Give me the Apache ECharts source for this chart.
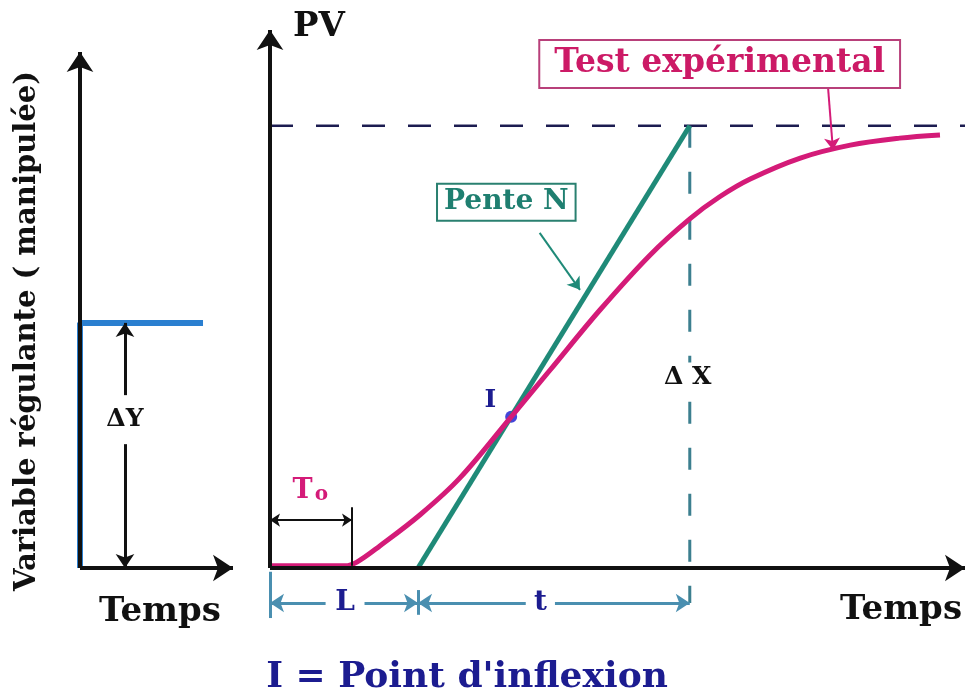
<!DOCTYPE html>
<html><head><meta charset="utf-8">
<script src="https://cdn.jsdelivr.net/npm/echarts@6/dist/echarts.min.js"></script>
<style>html,body{margin:0;padding:0;background:#fff}#c{width:971px;height:699px}</style>
</head><body><div id="c"></div>
<script>
// ---------- data ----------
// right panel : process response (time 0..100, PV 0..100)
const curveTime = [0, 10.8, 12.5, 15.8, 21.6, 27.3, 34.7, 40.3, 47.5, 54.7, 60.4, 64.7, 69.1, 76.3, 83.5, 90.6, 96.4];
const curvePV   = [0.4, 0.4, 1.1, 4.1, 9.9, 16.7, 28.1, 36.8, 48.0, 58.2, 64.9, 69.0, 72.3, 76.2, 78.6, 79.9, 80.5];
const tangentTime = [21.3, 60.4];
const tangentPV   = [0, 82.2];
const finalPV = 82.2;
const inflexionPoint = [34.7, 28.1];
const deadTimeT0 = 11.8;
const delayL = 21.3;
const timeEnd = 60.4;
// left panel : manipulated variable step
const stepTime  = [0, 0, 80.4];
const stepValue = [0, 47.5, 47.5];
const deltaYAt = 29.4;

// ---------- helpers ----------
const SERIF = '"DejaVu Serif", "Liberation Serif", serif';
const BLACK = '#111';
const MAGENTA = '#d41b78';
const TEAL = '#1f8a78';
const NAVY = '#1c1c90';
const DIM = '#4a8fb0';

function pairs(xs, ys) { return xs.map((x, i) => [x, ys[i]]); }
function seg(a, b, s0, s1) {
  return [{ coord: a, symbol: s0 || 'none' }, { coord: b, symbol: s1 || 'none' }];
}
function markerSeries(gi, lines, color, width, symSize) {
  return {
    type: 'line', data: [], xAxisIndex: gi, yAxisIndex: gi, silent: true,
    markLine: {
      silent: true, animation: false, symbolSize: symSize,
      label: { show: false },
      lineStyle: { color: color, width: width, type: 'solid' },
      emphasis: { disabled: true },
      data: lines
    }
  };
}
function textPoint(coord, text, style) {
  return {
    coord: coord, symbol: 'circle', symbolSize: 1,
    itemStyle: { color: 'rgba(0,0,0,0)' },
    label: Object.assign({ show: true, position: 'inside', formatter: text,
      fontFamily: SERIF, fontWeight: 'bold' }, style)
  };
}
function labelSeries(gi, points) {
  return {
    type: 'line', data: [], xAxisIndex: gi, yAxisIndex: gi, silent: true,
    markPoint: { silent: true, animation: false, data: points }
  };
}

const chart = echarts.init(document.getElementById('c'));
const hidden = { axisLine: { show: false }, axisTick: { show: false }, axisLabel: { show: false }, splitLine: { show: false } };

const option = {
  animation: false,
  backgroundColor: '#fff',
  grid: [
    { left: 80, top: 52, width: 153, height: 593.4 },
    { left: 270, top: 30, width: 695, height: 618.7 }
  ],
  xAxis: [
    Object.assign({ type: 'value', gridIndex: 0, min: 0, max: 100 }, hidden),
    Object.assign({ type: 'value', gridIndex: 1, min: 0, max: 100 }, hidden)
  ],
  yAxis: [
    Object.assign({ type: 'value', gridIndex: 0, min: -15, max: 100 }, hidden),
    Object.assign({ type: 'value', gridIndex: 1, min: -15, max: 100 }, hidden)
  ],
  graphic: [
    { type: 'text', x: 27, y: 331, rotation: Math.PI / 2,
      style: { text: 'Variable régulante ( manipulée)', align: 'center', verticalAlign: 'middle',
        font: 'bold 29px ' + SERIF, fill: BLACK } },
    { type: 'text', x: 293, y: 27, style: { text: 'PV', align: 'left', verticalAlign: 'middle',
        font: 'bold 34px ' + SERIF, fill: BLACK } },
    { type: 'text', x: 467, y: 678, style: { text: "I = Point d'inflexion", align: 'center', verticalAlign: 'middle',
        font: 'bold 36px ' + SERIF, fill: NAVY } }
  ],
  series: [
    // ----- left panel -----
    { type: 'line', xAxisIndex: 0, yAxisIndex: 0, data: pairs(stepTime, stepValue), symbol: 'none',
      lineStyle: { color: '#2a7fd0', width: 6 }, clip: false, silent: true },
    markerSeries(0, [
      seg([0, 0], [100, 0], 'none', 'arrow'),
      seg([0, 0], [0, 100], 'none', 'arrow')
    ], BLACK, 4, 20),
    markerSeries(0, [
      seg([deltaYAt, stepValue[1]], [deltaYAt, 33.5], 'arrow', 'none'),
      seg([deltaYAt, 24.0], [deltaYAt, 0], 'none', 'arrow')
    ], BLACK, 3, 14),
    labelSeries(0, [
      textPoint([deltaYAt, 28.7], 'ΔY', { fontSize: 25, color: BLACK }),
      textPoint([52.3, -8.5], 'Temps', { fontSize: 34, color: BLACK })
    ]),
    // ----- right panel -----
    { type: 'line', xAxisIndex: 1, yAxisIndex: 1, data: [[0, finalPV], [100, finalPV]], symbol: 'none',
      lineStyle: { color: '#1c1c50', width: 2.5, type: [23, 23] }, silent: true },
    { type: 'line', xAxisIndex: 1, yAxisIndex: 1, data: [[timeEnd, finalPV], [timeEnd, -6.5]], symbol: 'none',
      lineStyle: { color: '#3c7f8f', width: 3, type: [22, 24] }, clip: false, silent: true },
    { type: 'line', xAxisIndex: 1, yAxisIndex: 1, data: pairs(tangentTime, tangentPV), symbol: 'none',
      lineStyle: { color: TEAL, width: 5 }, silent: true },
    { type: 'line', xAxisIndex: 1, yAxisIndex: 1, data: pairs(curveTime, curvePV), symbol: 'none',
      smooth: 0.35, lineStyle: { color: MAGENTA, width: 5 }, silent: true },
    { type: 'scatter', xAxisIndex: 1, yAxisIndex: 1, data: [inflexionPoint], symbolSize: 12,
      itemStyle: { color: '#1515d0' }, silent: true },
    // axes
    markerSeries(1, [
      seg([0, 0], [100, 0], 'none', 'arrow'),
      seg([0, 0], [0, 100], 'none', 'arrow')
    ], BLACK, 4, 20),
    // T0 arrow
    markerSeries(1, [
      seg([0, 8.9], [deadTimeT0, 8.9], 'arrow', 'arrow'),
      seg([deadTimeT0, 11.3], [deadTimeT0, 0.4])
    ], BLACK, 2, 10),
    // L and t dimension arrows
    markerSeries(1, [
      seg([0, -6.5], [8.0, -6.5], 'arrow', 'none'),
      seg([13.6, -6.5], [delayL, -6.5], 'none', 'arrow'),
      seg([delayL, -6.5], [36.8, -6.5], 'arrow', 'none'),
      seg([41.0, -6.5], [timeEnd, -6.5], 'none', 'arrow'),
      seg([0, -0.7], [0, -9.3]),
      seg([delayL, -4.1], [delayL, -8.7])
    ], DIM, 3, 14),
    // pointer arrows
    markerSeries(1, [ seg([80.3, 89.2], [81.0, 77.7], 'none', 'arrow') ], MAGENTA, 2, 12),
    markerSeries(1, [ seg([38.8, 62.3], [44.6, 51.7], 'none', 'arrow') ], TEAL, 2, 12),
    labelSeries(1, [
      textPoint([10.8, -6.5], 'L', { fontSize: 28, color: NAVY }),
      textPoint([38.9, -6.5], 't', { fontSize: 28, color: NAVY }),
      textPoint([31.7, 31.2], 'I', { fontSize: 25, color: NAVY }),
      textPoint([60.1, 35.5], 'Δ X', { fontSize: 25, color: BLACK, backgroundColor: '#fff', padding: [2, 2] }),
      textPoint([90.8, -7.8], 'Temps', { fontSize: 34, color: BLACK }),
      textPoint([5.8, 15.0], '{t|T}{o|o}', { rich: {
        t: { fontSize: 27, fontFamily: SERIF, fontWeight: 'bold', color: MAGENTA, verticalAlign: 'bottom' },
        o: { fontSize: 20, fontFamily: SERIF, fontWeight: 'bold', color: MAGENTA, padding: [14, 0, 0, 2] } } }),
      textPoint([64.7, 93.7], 'Test expérimental', { fontSize: 33, color: '#cc1a66', backgroundColor: '#fff',
        borderColor: '#b8407a', borderWidth: 2, padding: [7, 14, 6, 14] }),
      textPoint([34.0, 68.0], 'Pente N', { fontSize: 28, color: '#1f7f70', backgroundColor: '#fff',
        borderColor: '#2a8070', borderWidth: 2, padding: [4, 6, 3, 6] })
    ])
  ]
};
chart.setOption(option);
</script></body></html>
